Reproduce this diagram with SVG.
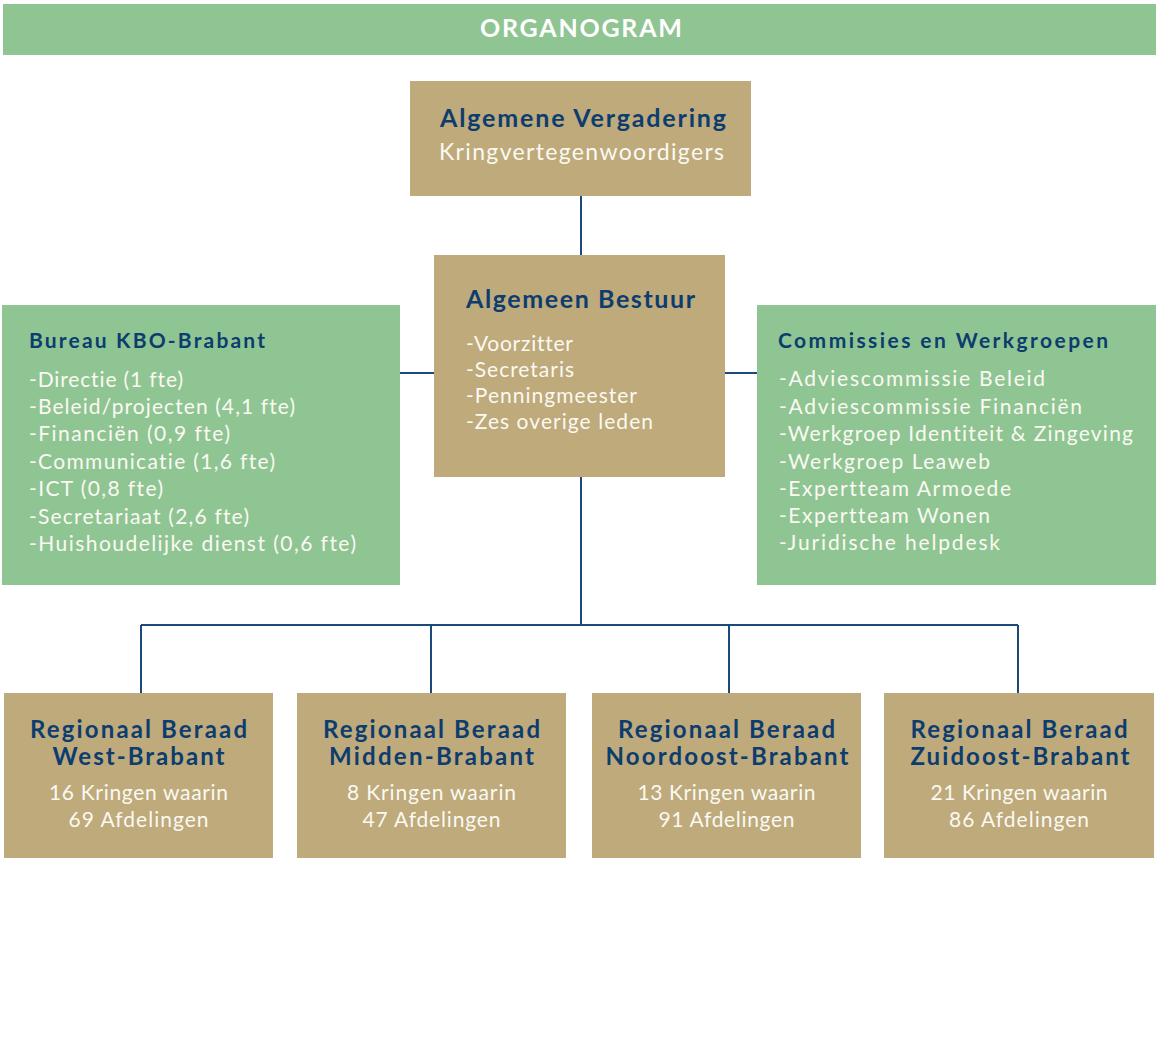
<svg xmlns="http://www.w3.org/2000/svg" width="1156" height="1046" viewBox="0 0 1156 1046">
<style>
.green{fill:#8FC593}
.tan{fill:#BEAA7B}
text{font-variant-ligatures:none;font-feature-settings:"liga" 0,"clig" 0}
.title{font-family:Lato,"Liberation Sans",sans-serif;font-weight:bold;fill:#0D3C6E}
.body{font-family:Lato,"Liberation Sans",sans-serif;fill:#FBF9F2}
.line{stroke:#1B4A7A;stroke-width:2;fill:none}
</style>
<rect x="0" y="0" width="1156" height="1046" fill="#ffffff"/>
<g id="header">
<rect class="green" x="3" y="4" width="1153" height="51"/>
<text x="581" y="37" text-anchor="middle" font-family="Lato,'Liberation Sans',sans-serif" font-weight="bold" font-size="25" fill="#ffffff" textLength="202">ORGANOGRAM</text>
</g>
<g id="connectors">
<path class="line" d="M581 196V255M581 477V625M141 625H1018M141 625V693M431 625V693M729 625V693M1018 625V693M400 373H434M725 373H757"/>
</g>
<g id="algemene-vergadering">
<rect class="tan" x="410" y="81" width="341" height="115"/>
<text class="title" x="583" y="127" text-anchor="middle" font-size="25" textLength="286">Algemene Vergadering</text>
<text class="body" x="581.5" y="160" text-anchor="middle" font-size="23" textLength="285">Kringvertegenwoordigers</text>
</g>
<g id="algemeen-bestuur">
<rect class="tan" x="434" y="255" width="291" height="222"/>
<text class="title" x="466" y="308" font-size="25" textLength="229">Algemeen Bestuur</text>
<text class="body" x="466" y="351" font-size="21" textLength="107">-Voorzitter</text>
<text class="body" x="466" y="377" font-size="21" textLength="108">-Secretaris</text>
<text class="body" x="466" y="403" font-size="21" textLength="171">-Penningmeester</text>
<text class="body" x="466" y="429" font-size="21" textLength="187">-Zes overige leden</text>
</g>
<g id="bureau">
<rect class="green" x="2" y="305" width="398" height="280"/>
<text class="title" x="29" y="348" font-size="21" textLength="236">Bureau KBO-Brabant</text>
<text class="body" x="29" y="387" font-size="21" textLength="154">-Directie (1 fte)</text>
<text class="body" x="29" y="414" font-size="21" textLength="266">-Beleid/projecten (4,1 fte)</text>
<text class="body" x="29" y="441" font-size="21" textLength="201">-Financiën (0,9 fte)</text>
<text class="body" x="29" y="469" font-size="21" textLength="246">-Communicatie (1,6 fte)</text>
<text class="body" x="29" y="496" font-size="21" textLength="134">-ICT (0,8 fte)</text>
<text class="body" x="29" y="524" font-size="21" textLength="220">-Secretariaat (2,6 fte)</text>
<text class="body" x="29" y="551" font-size="21" textLength="327">-Huishoudelijke dienst (0,6 fte)</text>
</g>
<g id="commissies">
<rect class="green" x="757" y="305" width="399" height="280"/>
<text class="title" x="778" y="348" font-size="21" textLength="330">Commissies en Werkgroepen</text>
<text class="body" x="779" y="386" font-size="21" textLength="266">-Adviescommissie Beleid</text>
<text class="body" x="779" y="414" font-size="21" textLength="303">-Adviescommissie Financiën</text>
<text class="body" x="779" y="441" font-size="21" textLength="354">-Werkgroep  Identiteit &amp; Zingeving</text>
<text class="body" x="779" y="469" font-size="21" textLength="211">-Werkgroep Leaweb</text>
<text class="body" x="779" y="496" font-size="21" textLength="232">-Expertteam Armoede</text>
<text class="body" x="779" y="523" font-size="21" textLength="211">-Expertteam Wonen</text>
<text class="body" x="779" y="550" font-size="21" textLength="221">-Juridische helpdesk</text>
</g>
<g id="west-brabant">
<rect class="tan" x="4" y="693" width="269" height="165"/>
<text class="title" x="138.5" y="738" text-anchor="middle" font-size="24" textLength="217">Regionaal Beraad</text>
<text class="title" x="138.5" y="765" text-anchor="middle" font-size="24" textLength="172">West-Brabant</text>
<text class="body" x="138.5" y="800" text-anchor="middle" font-size="21" textLength="179">16 Kringen waarin</text>
<text class="body" x="138.5" y="827" text-anchor="middle" font-size="21" textLength="140">69 Afdelingen</text>
</g>
<g id="midden-brabant">
<rect class="tan" x="297" y="693" width="269" height="165"/>
<text class="title" x="431.5" y="738" text-anchor="middle" font-size="24" textLength="217">Regionaal Beraad</text>
<text class="title" x="431.5" y="765" text-anchor="middle" font-size="24" textLength="205">Midden-Brabant</text>
<text class="body" x="431.5" y="800" text-anchor="middle" font-size="21" textLength="169">8 Kringen waarin</text>
<text class="body" x="431.5" y="827" text-anchor="middle" font-size="21" textLength="138">47 Afdelingen</text>
</g>
<g id="noordoost-brabant">
<rect class="tan" x="592" y="693" width="269" height="165"/>
<text class="title" x="726.5" y="738" text-anchor="middle" font-size="24" textLength="217">Regionaal Beraad</text>
<text class="title" x="727" y="765" text-anchor="middle" font-size="24" textLength="243">Noordoost-Brabant</text>
<text class="body" x="726.5" y="800" text-anchor="middle" font-size="21" textLength="178">13 Kringen waarin</text>
<text class="body" x="726.5" y="827" text-anchor="middle" font-size="21" textLength="136">91 Afdelingen</text>
</g>
<g id="zuidoost-brabant">
<rect class="tan" x="884" y="693" width="270" height="165"/>
<text class="title" x="1019" y="738" text-anchor="middle" font-size="24" textLength="217">Regionaal Beraad</text>
<text class="title" x="1020" y="765" text-anchor="middle" font-size="24" textLength="219">Zuidoost-Brabant</text>
<text class="body" x="1019" y="800" text-anchor="middle" font-size="21" textLength="177">21 Kringen waarin</text>
<text class="body" x="1019" y="827" text-anchor="middle" font-size="21" textLength="140">86 Afdelingen</text>
</g>
</svg>
